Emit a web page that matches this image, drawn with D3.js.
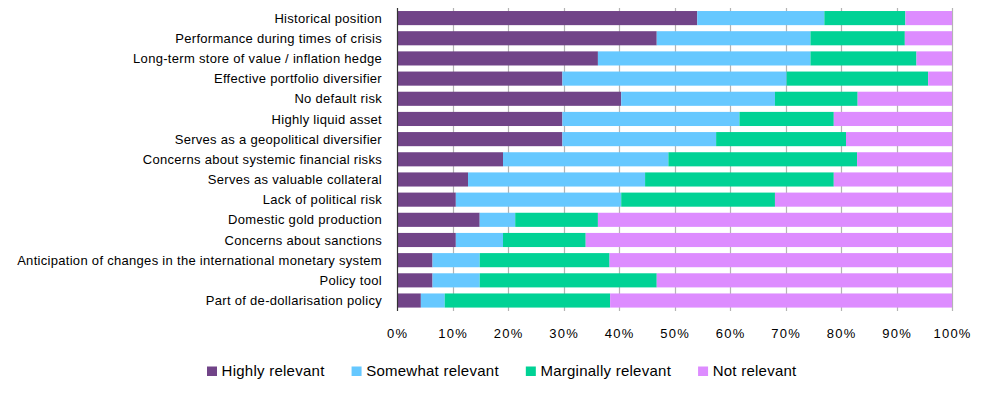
<!DOCTYPE html>
<html>
<head>
<meta charset="utf-8">
<script src="https://cdn.jsdelivr.net/npm/d3@7/dist/d3.min.js"></script>
<style>
  html, body { margin: 0; padding: 0; background: #fff; }
  svg { display: block; font-family: "Liberation Sans", Arial, sans-serif; }
</style>
</head>
<body>
<svg id="chart" width="981" height="399"></svg>
<script>
const categories = [
  "Historical position",
  "Performance during times of crisis",
  "Long-term store of value / inflation hedge",
  "Effective portfolio diversifier",
  "No default risk",
  "Highly liquid asset",
  "Serves as a geopolitical diversifier",
  "Concerns about systemic financial risks",
  "Serves as valuable collateral",
  "Lack of political risk",
  "Domestic gold production",
  "Concerns about sanctions",
  "Anticipation of changes in the international monetary system",
  "Policy tool",
  "Part of de-dollarisation policy"
];
const seriesNames = ["Highly relevant", "Somewhat relevant", "Marginally relevant", "Not relevant"];
const highlyRelevant     = [54.1, 46.8, 36.2, 29.8, 40.4, 29.8, 29.8, 19.1, 12.8, 10.6, 14.9, 10.6, 6.4, 6.4, 4.3];
const somewhatRelevant   = [22.9, 27.7, 38.3, 40.4, 27.7, 31.9, 27.7, 29.8, 31.9, 29.8, 6.4, 8.5, 8.5, 8.5, 4.3];
const marginallyRelevant = [14.6, 17.0, 19.1, 25.5, 14.9, 17.0, 23.4, 34.0, 34.0, 27.7, 14.9, 14.9, 23.4, 31.9, 29.8];
const notRelevant        = [8.4, 8.5, 6.4, 4.3, 17.0, 21.3, 19.1, 17.1, 21.3, 31.9, 63.8, 66.0, 61.7, 53.2, 61.6];
const tickValues = [0, 0.1, 0.2, 0.3, 0.4, 0.5, 0.6, 0.7, 0.8, 0.9, 1.0];
const colors = ["#714488", "#66c8ff", "#00d295", "#dd8cff"];

const seriesData = [highlyRelevant, somewhatRelevant, marginallyRelevant, notRelevant];
const rows = categories.map((c, i) => {
  const o = { category: c };
  seriesNames.forEach((s, k) => o[s] = seriesData[k][i]);
  return o;
});
const stack = d3.stack().keys(seriesNames).offset(d3.stackOffsetExpand);
const stacked = stack(rows);

const svg = d3.select("#chart");
const x = d3.scaleLinear().domain([0, 1]).range([397, 952]);
const y = d3.scaleBand().domain(categories).range([8, 310.6]).paddingInner(0.3).paddingOuter(0.15);

// gridlines
svg.append("g").selectAll("line").data(tickValues.slice(1)).join("line")
  .attr("x1", d => Math.round(x(d)) + 0.5).attr("x2", d => Math.round(x(d)) + 0.5)
  .attr("y1", 8).attr("y2", 311)
  .attr("stroke", "#b4b4b4").attr("stroke-width", 1.2);

// bars
svg.append("g").selectAll("g").data(stacked).join("g")
  .attr("fill", (d, i) => colors[i])
  .selectAll("rect").data(d => d).join("rect")
  .attr("x", d => x(d[0]))
  .attr("width", d => Math.max(0, x(d[1]) - x(d[0])))
  .attr("y", d => y(d.data.category))
  .attr("height", y.bandwidth());

// left axis line
svg.append("line").attr("x1", 397.5).attr("x2", 397.5).attr("y1", 8).attr("y2", 311)
  .attr("stroke", "#333").attr("stroke-width", 1.2);

// category labels
svg.append("g").selectAll("text").data(categories).join("text")
  .attr("x", 382).attr("y", d => y(d) + y.bandwidth() / 2)
  .attr("dy", "0.35em").attr("text-anchor", "end")
  .attr("font-size", "13px").attr("letter-spacing", "0.3px").attr("fill", "#000")
  .text(d => d);

// x tick labels
const fmt = d3.format(".0%");
svg.append("g").selectAll("text").data(tickValues).join("text")
  .attr("x", d => x(d) + 0.6).attr("y", 333)
  .attr("dy", "0.35em").attr("text-anchor", "middle")
  .attr("font-size", "13px").attr("letter-spacing", "1.2px").attr("fill", "#000")
  .text(d => fmt(d));

// legend
const legend = svg.append("g");
let lx = 207;
seriesNames.forEach((name, i) => {
  legend.append("rect").attr("x", lx).attr("y", 366.5).attr("width", 10).attr("height", 9.5).attr("fill", colors[i]);
  const t = legend.append("text").attr("x", lx + 14.6).attr("y", 375.5)
    .attr("font-size", "15px").attr("letter-spacing", "0.25px").attr("fill", "#000").text(name);
  const w = t.node().getComputedTextLength();
  lx = lx + 14.6 + w + 27;
});
</script>
</body>
</html>
